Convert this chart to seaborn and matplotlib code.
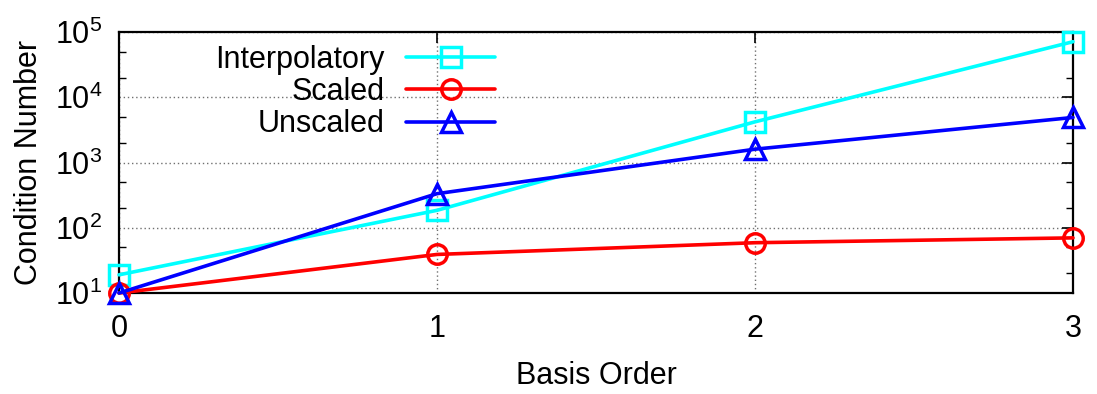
import matplotlib
matplotlib.use("Agg")
import matplotlib.pyplot as plt
import seaborn as sns
import pandas as pd
from matplotlib.ticker import LogLocator, NullFormatter

basis_order = [0, 1, 2, 3]
interpolatory = [19, 185, 4200, 71000]
scaled = [10, 39, 59, 70]
unscaled = [10, 333, 1600, 4900]

series_names = ["Interpolatory", "Scaled", "Unscaled"]
series_values = [interpolatory, scaled, unscaled]
colors = ["#00ffff", "#ff0000", "#0000ff"]
markers = ["s", "o", "^"]

sns.set_theme(style="white")
plt.rcParams['font.family'] = ['Liberation Sans', 'DejaVu Sans']
plt.rcParams['mathtext.fontset'] = 'custom'
plt.rcParams['mathtext.rm'] = 'Liberation Sans'
plt.rcParams['mathtext.it'] = 'Liberation Sans'
plt.rcParams['text.color'] = 'black'
plt.rcParams['axes.labelcolor'] = 'black'
plt.rcParams['xtick.color'] = 'black'
plt.rcParams['ytick.color'] = 'black'

FS = 22
fig = plt.figure(figsize=(10.97, 3.94), dpi=100)
ax = fig.add_axes([119 / 1097, 0.2563, (1073 - 119) / 1097, 0.9188 - 0.2563])

for name, vals, c, m in zip(series_names, series_values, colors, markers):
    df = pd.DataFrame({"x": basis_order, "y": vals})
    sns.lineplot(data=df, x="x", y="y", ax=ax, color=c, marker=m, markersize=14,
                 markerfacecolor="none", markeredgecolor=c, markeredgewidth=2.5,
                 linewidth=2.6, label=name, clip_on=False, zorder=3)

ax.set_yscale("log")
ax.set_ylim(10, 1e5)
ax.set_xlim(0, 3)
ax.set_xticks([0, 1, 2, 3])
ax.yaxis.set_major_locator(LogLocator(base=10, numticks=10))
ax.yaxis.set_minor_locator(LogLocator(base=10, subs=[2, 5], numticks=20))
ax.yaxis.set_minor_formatter(NullFormatter())

ax.grid(True, which="major", color="#707070", linestyle=(0, (1, 2)), linewidth=1.0)
ax.tick_params(axis="both", which="both", direction="in", top=True, right=True,
               labelsize=FS, color="black", labelcolor="black")
ax.tick_params(axis="both", which="major", length=8, width=1.2)
ax.tick_params(axis="x", which="major", pad=15)
ax.tick_params(axis="y", which="major", pad=12)
ax.tick_params(axis="y", which="minor", length=5, width=1.0, left=True, right=True)
ax.tick_params(axis="x", which="minor", bottom=False, top=False)
for s in ax.spines.values():
    s.set_color("black")
    s.set_linewidth(1.6)

ax.set_xlabel("Basis Order", fontsize=FS, labelpad=12, color="black")
ax.set_ylabel("Condition Number", fontsize=FS, labelpad=8, color="black")

leg = ax.legend(loc="upper right", bbox_to_anchor=(0.394, 0.952), frameon=False,
                markerfirst=False, fontsize=FS, handlelength=2.9,
                labelspacing=0.08, handletextpad=0.7, borderaxespad=0,
                borderpad=0, labelcolor="black")

fig.savefig("out.png", dpi=100)
